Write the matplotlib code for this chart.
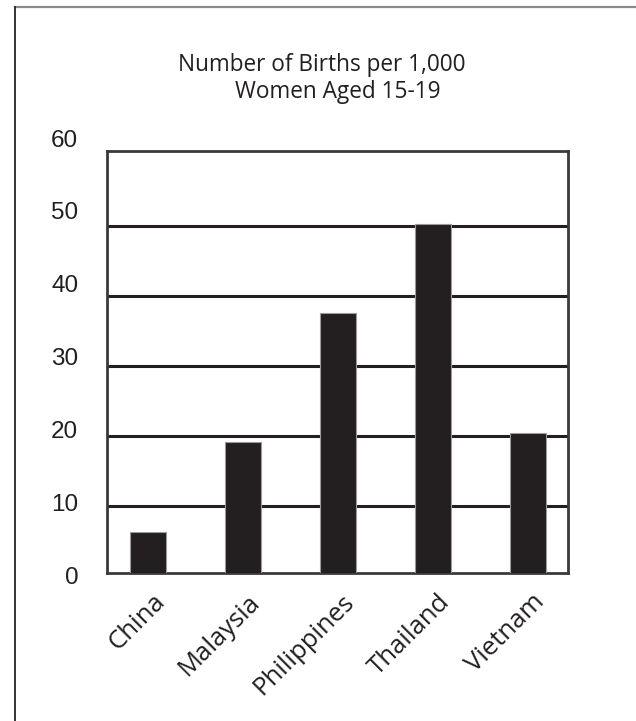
import matplotlib
matplotlib.use('Agg')
import matplotlib.pyplot as plt
import matplotlib.transforms as mtransforms
from matplotlib.lines import Line2D

countries = ['China', 'Malaysia', 'Philippines', 'Thailand', 'Vietnam']
births = [6.4, 19.2, 37.5, 50.2, 20.4]
grid_vals = [10, 20, 30, 40, 50]
tick_vals = [0, 10, 20, 30, 40, 50, 60]

fig = plt.figure(figsize=(6.36, 7.21), dpi=100)

# frame lines around the page (top and left only)
fig.add_artist(Line2D([15.3/636, 1], [1-7/721, 1-7/721], color='#8a8a8a', lw=1.6))
fig.add_artist(Line2D([15.3/636, 15.3/636], [0, 1-7/721], color='#222222', lw=1.3))

ax = fig.add_axes([0.169, 0.2057, 0.7236, 0.5845])
x = range(len(countries))
ax.bar(x, births, width=0.38, color='#231f20', edgecolor='#9a9a9a', linewidth=0.8, zorder=3)
for g in grid_vals:
    ax.axhline(g, color='#231f20', lw=2.2, zorder=1)

ax.set_xlim(-0.43, 4.42)
ax.set_ylim(0.54, 60.6)
ax.set_yticks([])

ax.set_xticks(list(x))
ax.set_xticklabels(countries, rotation=45, ha='right', rotation_mode='anchor',
                   family='Open Sans', fontsize=18.5, color='#231f20')
ax.tick_params(axis='x', length=0, pad=12)
shift = mtransforms.ScaledTranslation(4/100, 0, fig.dpi_scale_trans)
for lbl in ax.get_xticklabels():
    lbl.set_transform(lbl.get_transform() + shift)

for s in ax.spines.values():
    s.set_color('#3a3a3a')
    s.set_linewidth(2)

# number labels on their own, slightly taller scale so they sit above the gridlines
lab = fig.add_axes([0.169, 1 - 589.6/721, 0.7236, (589.6 - 123.6)/721], frameon=False)
lab.set_ylim(-2, 62)
lab.set_xticks([])
lab.set_yticks(tick_vals)
lab.set_yticklabels([str(v) for v in tick_vals], family='Liberation Sans', fontsize=17.5, color='#231f20')
lab.tick_params(axis='y', length=0, pad=21)
lab.patch.set_visible(False)

fig.text(321.5/636, 1-71/721, 'Number of Births per 1,000', ha='center', va='baseline',
         family='Open Sans', fontsize=16.3, color='#231f20')
fig.text(337.5/636, 1-98/721, 'Women Aged 15-19', ha='center', va='baseline',
         family='Open Sans', fontsize=16.3, color='#231f20')

fig.savefig('out.png', dpi=100)
